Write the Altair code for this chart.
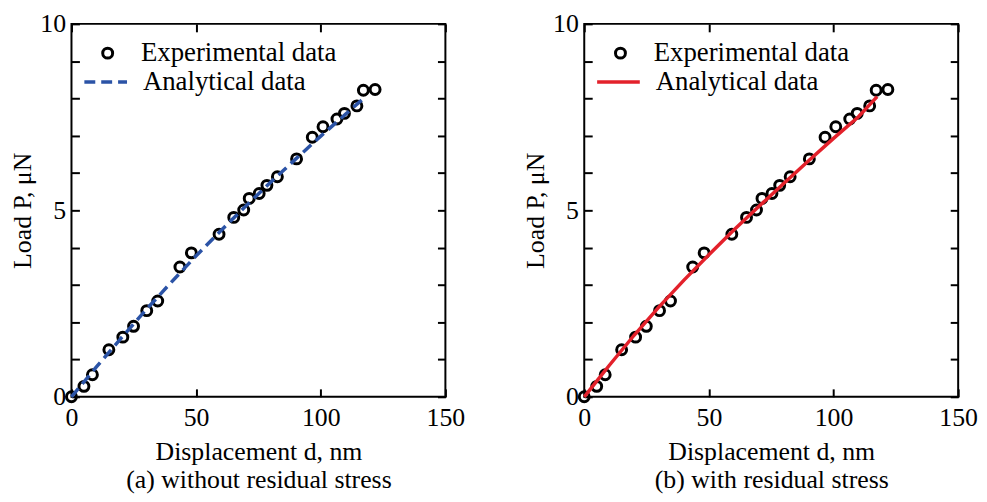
import altair as alt
import pandas as pd

# Experimental data (same in both panels)
d_exp = [0, 5.0, 8.4, 15.0, 20.6, 24.9, 30.2, 34.6, 43.5, 48.1, 59.2, 65.1, 69.1,
         71.3, 75.3, 78.4, 82.6, 90.3, 96.6, 100.9, 106.5, 109.5, 114.5, 117.1, 121.8]
p_exp = [0, 0.28, 0.59, 1.26, 1.60, 1.89, 2.31, 2.57, 3.48, 3.86, 4.36, 4.81, 5.01,
         5.32, 5.45, 5.67, 5.90, 6.38, 6.96, 7.24, 7.45, 7.60, 7.80, 8.22, 8.24]

# Analytical curve (a) without residual stress
d_ana_a = [0, 10, 20, 30, 40, 50, 60, 70, 80, 90, 100, 110, 118]
p_ana_a = [0, 0.80, 1.58, 2.34, 3.07, 3.78, 4.46, 5.12, 5.76, 6.38, 6.99, 7.58, 8.05]

# Analytical curve (b) with residual stress
d_ana_b = [0, 5, 10, 20, 30, 40, 50, 60, 70, 80, 90, 100, 110, 117.5]
p_ana_b = [0, 0.42, 0.84, 1.65, 2.41, 3.13, 3.81, 4.47, 5.10, 5.72, 6.33, 6.93, 7.51, 8.05]

x_ticks = [0, 50, 100, 150]
y_label_ticks = [0, 5, 10]
y_minor_ticks = list(range(0, 11))

captions = ["(a) without residual stress", "(b) with residual stress"]
series_names = ["Experimental data", "Analytical data"]

FONT = "Liberation Serif"
W, H = 377, 376


def panel(d_ana, p_ana, color, dash, caption):
    exp_df = pd.DataFrame({"d": d_exp, "P": p_exp, "series": series_names[0]})
    ana_df = pd.DataFrame({"d": d_ana, "P": p_ana, "series": series_names[1]})
    xs = alt.Scale(domain=[0, 150], nice=False, zero=False)
    ys = alt.Scale(domain=[0, 10], nice=False, zero=False)

    x_lab = alt.X("d:Q", scale=xs, axis=alt.Axis(
        orient="bottom", values=x_ticks, ticks=False, domain=False, grid=False,
        labelPadding=8, title=["Displacement d, nm", caption], titlePadding=8,
        titleLineHeight=28, labelFlush=False))
    y_lab = alt.Y("P:Q", scale=ys, axis=alt.Axis(
        orient="left", values=y_label_ticks, ticks=False, domain=False, grid=False,
        labelPadding=6, title="Load P, μN", titlePadding=4, labelFlush=False))

    x_in_bottom = alt.X("d:Q", scale=xs, axis=alt.Axis(
        orient="top", offset=-H, values=x_ticks, labels=False, domain=False,
        grid=False, tickSize=8, tickWidth=2, title=None))
    x_in_top = alt.X("d:Q", scale=xs, axis=alt.Axis(
        orient="bottom", offset=-H, values=x_ticks, labels=False, domain=False,
        grid=False, tickSize=8, tickWidth=2, title=None))
    y_in_left = alt.Y("P:Q", scale=ys, axis=alt.Axis(
        orient="right", offset=-W, values=y_minor_ticks, labels=False, domain=False,
        grid=False, tickSize=8, tickWidth=2, title=None))
    y_in_right = alt.Y("P:Q", scale=ys, axis=alt.Axis(
        orient="left", offset=-W, values=y_minor_ticks, labels=False, domain=False,
        grid=False, tickSize=8, tickWidth=2, title=None))

    pts = alt.Chart(exp_df).mark_point(
        filled=False, color="black", size=100, strokeWidth=3, opacity=1
    ).encode(
        x=x_lab, y=y_lab,
        shape=alt.Shape("series:N", scale=alt.Scale(domain=[series_names[0]], range=["circle"]),
                        legend=alt.Legend(orient="none", legendX=23, legendY=16, title=None,
                                          symbolSize=100, symbolStrokeWidth=3,
                                          symbolStrokeColor="black", labelOffset=20,
                                          padding=0)),
    )
    line_mark = dict(strokeWidth=3.5)
    leg_kw = dict(orient="none", legendX=11, legendY=35, title=None,
                  symbolType="stroke", symbolSize=1850, symbolStrokeWidth=3.5,
                  labelOffset=14, padding=0)
    if dash:
        line_mark["strokeDash"] = dash
        leg_kw["symbolDash"] = dash
    line = alt.Chart(ana_df).mark_line(**line_mark).encode(
        x=x_in_bottom, y=y_in_left,
        color=alt.Color("series:N", scale=alt.Scale(domain=[series_names[1]], range=[color]),
                        legend=alt.Legend(**leg_kw)),
    )
    ghost = alt.Chart(exp_df).mark_point(opacity=0).encode(x=x_in_top, y=y_in_right)

    return alt.layer(pts, line, ghost).resolve_axis(x="independent", y="independent").properties(
        width=W, height=H)


left = panel(d_ana_a, p_ana_a, "#2b53a6", [11, 6], captions[0])
right = panel(d_ana_b, p_ana_b, "#e3212b", None, captions[1])

chart = alt.hconcat(left, right, spacing=140, bounds="flush").resolve_scale(
    color="independent", shape="independent"
).resolve_legend(
    color="independent", shape="independent"
).properties(
    padding={"left": 1, "top": 0, "right": 0, "bottom": 0}
).configure_view(stroke="black", strokeWidth=2).configure_axis(
    labelFont=FONT, labelFontSize=26, labelColor="black",
    titleFont=FONT, titleFontSize=26, titleFontWeight="normal", titleColor="black",
    tickColor="black"
).configure_legend(
    labelFont=FONT, labelFontSize=27, labelColor="black", labelLimit=400
)

chart.save("out.html", embed_options={"renderer": "svg", "actions": False})
